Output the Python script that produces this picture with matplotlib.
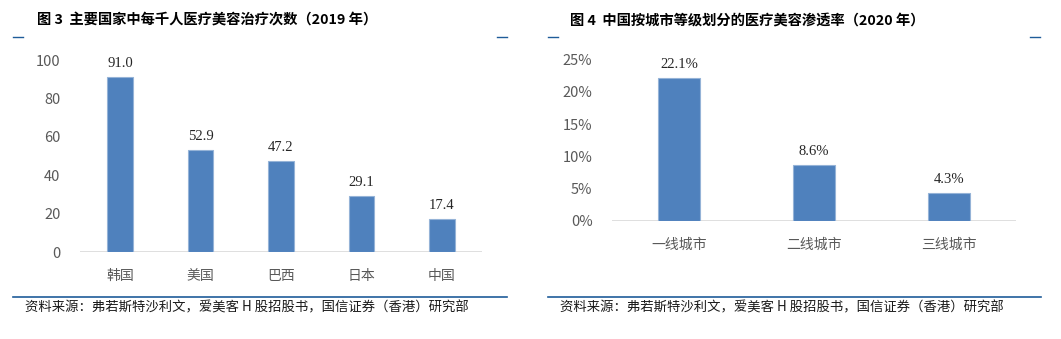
import matplotlib
matplotlib.use("Agg")
import matplotlib.pyplot as plt
from matplotlib.ticker import FuncFormatter
from matplotlib.lines import Line2D

plt.rcParams['font.family'] = ['Noto Sans CJK SC', 'DejaVu Sans']

# 图3 数据
countries = ['韩国', '美国', '巴西', '日本', '中国']
treatments = [91.0, 52.9, 47.2, 29.1, 17.4]
# 图4 数据
city_tiers = ['一线城市', '二线城市', '三线城市']
penetration = [22.1, 8.6, 4.3]

title_left = '图 3  主要国家中每千人医疗美容治疗次数（2019 年）'
title_right = '图 4  中国按城市等级划分的医疗美容渗透率（2020 年）'
source = '资料来源：弗若斯特沙利文，爱美客 H 股招股书，国信证券（香港）研究部'

W, H = 1061, 339
BAR = '#4F81BD'
EDGE = '#95B3D7'
GRID = '#D9D9D9'
TICK = '#595959'
LINE = '#1F5C99'

fig = plt.figure(figsize=(W / 100, H / 100), dpi=100)


def px_axes(x0, x1, y_top, y_bot):
    return fig.add_axes([x0 / W, 1 - y_bot / H, (x1 - x0) / W, (y_bot - y_top) / H])


def style(ax, labels):
    for s in ax.spines.values():
        s.set_visible(False)
    ax.axhline(0, color=GRID, lw=1.2, zorder=1)
    ax.set_xticks(range(len(labels)))
    ax.set_xticklabels(labels, fontsize=10, color=TICK, fontweight='light')
    ax.tick_params(axis='x', length=0, pad=12)
    ax.tick_params(axis='y', length=0, labelsize=10.5, labelcolor=TICK, pad=14)
    for t in ax.get_yticklabels():
        t.set_fontweight('light')
    ax.set_xlim(-0.5, len(labels) - 0.5)


# 左图
ax1 = px_axes(80, 482, 60, 252)
ax1.bar(range(len(countries)), treatments, width=0.32, color=BAR,
        edgecolor=EDGE, linewidth=0.8, zorder=2)
ax1.set_ylim(0, 100)
ax1.set_yticks(range(0, 101, 20))
style(ax1, countries)
for i, v in enumerate(treatments):
    ax1.annotate(f'{v:.1f}', (i, v), xytext=(0, 5), textcoords='offset points',
                 ha='center', va='bottom', fontsize=10.5, color='#262626',
                 family='Liberation Serif')

# 右图
ax2 = px_axes(612, 1016, 59.5, 221)
ax2.bar(range(len(city_tiers)), penetration, width=0.31, color=BAR,
        edgecolor=EDGE, linewidth=0.8, zorder=2)
ax2.set_ylim(0, 25)
ax2.set_yticks(range(0, 26, 5))
ax2.yaxis.set_major_formatter(FuncFormatter(lambda v, p: f'{v:.0f}%'))
style(ax2, city_tiers)
for i, v in enumerate(penetration):
    ax2.annotate(f'{v:.1f}%', (i, v), xytext=(0, 5), textcoords='offset points',
                 ha='center', va='bottom', fontsize=10.5, color='#262626',
                 family='Liberation Serif')

# 标题、来源与装饰线
for x, t in [(37, title_left), (570, title_right)]:
    fig.text(x / W, 1 - 21 / H, t, fontsize=10.3, fontweight='bold',
             ha='left', va='center', color='black')
for x, t in [(25, source), (560, source)]:
    fig.text(x / W, 1 - 307 / H, t, fontsize=9.6, ha='left', va='center',
             color='#1a1a1a')


def hline(x0, x1, y, lw):
    fig.add_artist(Line2D([x0 / W, x1 / W], [1 - y / H, 1 - y / H],
                          color=LINE, lw=lw, transform=fig.transFigure))


for x0 in (13, 497, 548, 1030):
    hline(x0, x0 + 10, 37, 1.0)
hline(13, 507, 297, 1.2)
hline(548, 1041, 297, 1.2)

fig.savefig('out.png', dpi=100)
